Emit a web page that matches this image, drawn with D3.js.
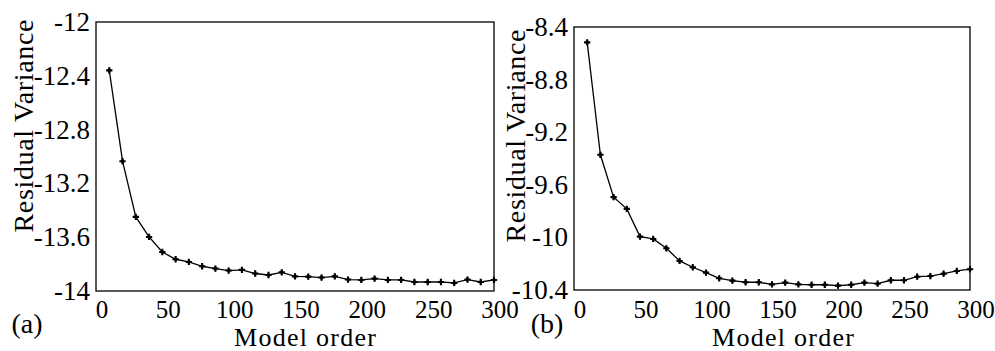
<!DOCTYPE html>
<html>
<head>
<meta charset="UTF-8">
<script src="https://cdn.jsdelivr.net/npm/d3@7"></script>
</head>
<body style="margin:0">
<script>
// model order (x) and the two residual variance series
const modelOrder = [10, 20, 30, 40, 50, 60, 70, 80, 90, 100, 110, 120, 130, 140, 150,
                    160, 170, 180, 190, 200, 210, 220, 230, 240, 250, 260, 270, 280, 290, 300];
const residualA = [-12.36, -13.035, -13.449, -13.598, -13.710, -13.764, -13.784, -13.816, -13.833, -13.848,
                   -13.843, -13.870, -13.881, -13.861, -13.891, -13.893, -13.900, -13.891, -13.915, -13.918,
                   -13.908, -13.918, -13.918, -13.933, -13.933, -13.933, -13.940, -13.915, -13.933, -13.918];
const residualB = [-8.517, -9.372, -9.694, -9.783, -9.994, -10.012, -10.083, -10.179, -10.227, -10.268,
                   -10.311, -10.329, -10.341, -10.341, -10.357, -10.344, -10.357, -10.360, -10.360, -10.367,
                   -10.360, -10.344, -10.352, -10.326, -10.326, -10.299, -10.294, -10.276, -10.255, -10.242];
const xTicks = [0, 50, 100, 150, 200, 250, 300];
const yTicksA = ["-12", "-12.4", "-12.8", "-13.2", "-13.6", "-14"];
const yTicksB = ["-8.4", "-8.8", "-9.2", "-9.6", "-10", "-10.4"];

const svg = d3.select("body").append("svg")
    .attr("width", 995)
    .attr("height", 351);

const panels = [
    {values: residualA, ticks: yTicksA, domain: [-14, -12], tag: "(a)",
     left: 96, right: 494, top: 22, bottom: 291,
     yTitleX: 33, yTitleY: 126, tagX: 27, titleX: 305},
    {values: residualB, ticks: yTicksB, domain: [-10.4, -8.4], tag: "(b)",
     left: 574, right: 970, top: 27, bottom: 290,
     yTitleX: 525, yTitleY: 136, tagX: 547, titleX: 783}
];

function serifText(sel) {
    return sel.style("font-family", `"Liberation Serif"`);
}

panels.forEach(p => {
    const x = d3.scaleLinear().domain([0, 300]).range([p.left, p.right]);
    const y = d3.scaleLinear().domain(p.domain).range([p.bottom, p.top]);

    // frame
    svg.append("rect")
        .attr("x", p.left).attr("y", p.top)
        .attr("width", p.right - p.left).attr("height", p.bottom - p.top)
        .attr("fill", "none").attr("stroke", "#000").attr("stroke-width", 1.3);

    // y tick labels (plain hyphen, as in the figure)
    svg.append("g").selectAll("text").data(p.ticks).join("text")
        .call(serifText)
        .attr("x", p.left - 6)
        .attr("y", d => y(+d) + 9)
        .attr("text-anchor", "end")
        .attr("font-size", 27)
        .text(d => d);

    // x tick labels
    svg.append("g").selectAll("text").data(xTicks).join("text")
        .call(serifText)
        .attr("x", d => x(d) + 6)
        .attr("y", 318)
        .attr("text-anchor", "middle")
        .attr("font-size", 25)
        .text(d => d);

    // axis titles
    svg.append("text")
        .call(serifText)
        .attr("transform", `translate(${p.yTitleX},${p.yTitleY}) rotate(-90)`)
        .attr("text-anchor", "middle")
        .attr("font-size", 28)
        .attr("textLength", 213)
        .text("Residual Variance");

    svg.append("text")
        .call(serifText)
        .attr("x", p.titleX).attr("y", 346)
        .attr("text-anchor", "middle")
        .attr("font-size", 26)
        .attr("textLength", 142)
        .text("Model order");

    svg.append("text")
        .call(serifText)
        .attr("x", p.tagX).attr("y", 333)
        .attr("text-anchor", "middle")
        .attr("font-size", 28)
        .text(p.tag);

    // series line
    const line = d3.line()
        .x((d, i) => x(modelOrder[i]))
        .y(d => y(d));

    svg.append("path")
        .datum(p.values)
        .attr("fill", "none")
        .attr("stroke", "#000")
        .attr("stroke-width", 1.3)
        .attr("d", line);

    // markers
    const cross = d3.symbol().type(d3.symbolCross).size(22);
    const diamond = d3.symbol().type(d3.symbolDiamond).size(12);
    const m = svg.append("g").selectAll("g").data(p.values).join("g")
        .attr("transform", (d, i) => `translate(${x(modelOrder[i])},${y(d)})`);
    m.append("path").attr("d", cross).attr("fill", "#000");
    m.append("path").attr("d", diamond).attr("fill", "#000");
});
</script>
</body>
</html>
